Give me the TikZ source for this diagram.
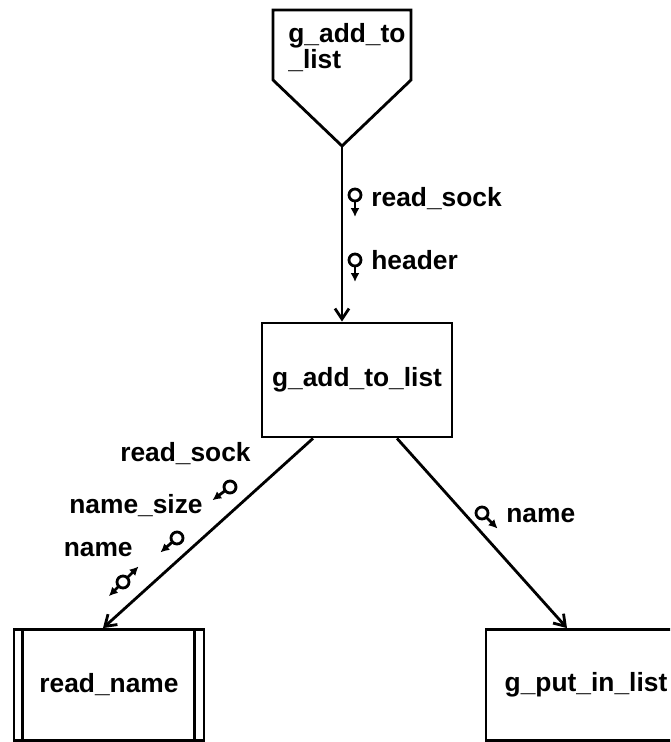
\documentclass[tikz,border=0pt]{standalone}
\usepackage{fontspec}
\setsansfont{Liberation Sans}
\usepackage{tikz}
\usetikzlibrary{arrows.meta,calc,positioning}

\begin{document}
\begin{tikzpicture}[
    x=0.02cm, y=-0.02cm,
    every node/.style={font=\sffamily\bfseries\fontsize{15}{17}\selectfont},
    flow/.style={line width=1.6pt, -{Straight Barb[length=6pt,width=8pt]}},
    module/.style={draw, line width=1.6pt, minimum width=3.8cm, minimum height=2.22cm},
    couplelbl/.style={inner sep=0pt},
    coupleline/.style={line width=1.6pt},
    couple/.pic={
      \draw[coupleline] (0,0) circle (6);
      \draw[coupleline, -{Latex[length=5pt,width=5pt]}] (0,6) -- (0,22);
    },
    couple both/.pic={
      \draw[coupleline] (0,0) circle (6);
      \draw[coupleline, -{Latex[length=5pt,width=5pt]}] (0,6) -- (0,20);
      \draw[coupleline, -{Latex[length=5pt,width=5pt]}] (0,-6) -- (0,-22);
    }
  ]

    % Page frame
    \useasboundingbox (0,0) rectangle (670,742);
    \clip (0,0) rectangle (670,742);

    %------------------ Off-page connector ------------------%
    \coordinate (tip) at (342,146);
    \draw[line width=1.6pt, line join=miter] (273,10) -- (411,10) -- (411,80) -- (tip) -- (273,80) -- cycle;
    \node[anchor=north west, align=left, inner sep=0pt, font=\sffamily\bfseries\fontsize{15}{13.6}\selectfont] (conn) at (288,23) {g\_add\_to\\\_list};

    %------------------ Modules ------------------%
    \node[module, minimum height=2.28cm] (main) at (357,380) {g\_add\_to\_list};
    \node[module] (readname) at (109,685) {read\_name};
    \node[module, minimum width=4cm] (putlist) at (586,685) {g\_put\_in\_list};

    % Library module sides
    \draw[line width=1.6pt] ($(readname.north west)+(10,0)$) -- ($(readname.south west)+(10,0)$);
    \draw[line width=1.6pt] ($(readname.north east)+(-11,0)$) -- ($(readname.south east)+(-11,0)$);

    %------------------ Calls ------------------%
    \draw[flow] (tip) -- (tip |- main.north);
    \draw[flow] ($(main.south)+(-44,0)$) -- ($(readname.north)+(-6,0)$);
    \draw[flow] ($(main.south)+(40,0)$) -- ($(putlist.north)+(-19,0)$);

    %------------------ Couples ------------------%
    % Into g_add_to_list
    \pic at (355,195) {couple};
    \node[couplelbl, anchor=base west] (rsock1) at (371,207) {read\_sock};
    \pic at (355,260) {couple};
    \node[couplelbl, anchor=base west] (hdr) at (371,270) {header};

    % To read_name
    \pic[rotate=-53] at (230,487) {couple};
    \node[couplelbl, anchor=base east] (rsock2) at (251,461) {read\_sock};
    \pic[rotate=-49] at (177,538) {couple};
    \node[couplelbl, anchor=base east] (nsize) at (203,513) {name\_size};
    \pic[rotate=-45] at (123,582) {couple both};
    \node[couplelbl, anchor=base east] (name1) at (133,556) {name};

    % To g_put_in_list
    \pic[rotate=45] at (482,513) {couple};
    \node[couplelbl, anchor=base west] (name2) at (506,522) {name};

  \end{tikzpicture}
\end{document}
